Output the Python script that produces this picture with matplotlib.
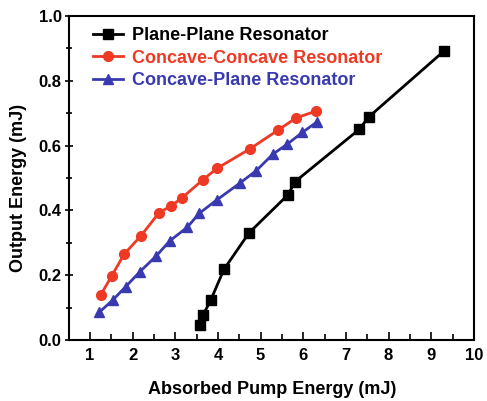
import matplotlib
matplotlib.use("Agg")
import matplotlib.pyplot as plt
from matplotlib.ticker import MultipleLocator

plt.rcParams['font.family'] = ['Liberation Sans', 'DejaVu Sans']
plt.rcParams['font.weight'] = 'bold'

pp_x = [3.58, 3.65, 3.83, 4.14, 4.73, 5.64, 5.81, 7.31, 7.54, 9.30]
pp_y = [0.046, 0.077, 0.123, 0.218, 0.331, 0.448, 0.489, 0.650, 0.689, 0.892]

cc_x = [1.25, 1.51, 1.80, 2.19, 2.62, 2.90, 3.16, 3.64, 3.98, 4.75, 5.41, 5.84, 6.31]
cc_y = [0.139, 0.198, 0.265, 0.321, 0.393, 0.414, 0.439, 0.494, 0.530, 0.590, 0.648, 0.686, 0.707]

cp_x = [1.22, 1.53, 1.84, 2.17, 2.55, 2.87, 3.28, 3.56, 3.97, 4.51, 4.90, 5.29, 5.63, 5.98, 6.32]
cp_y = [0.086, 0.123, 0.165, 0.211, 0.259, 0.306, 0.348, 0.391, 0.432, 0.484, 0.523, 0.574, 0.605, 0.641, 0.673]

labels = ["Plane-Plane Resonator", "Concave-Concave Resonator", "Concave-Plane Resonator"]
colors = ["#000000", "#ee3a24", "#3a3ab0"]

fig = plt.figure(figsize=(4.87, 4.01), dpi=100)
ax = fig.add_axes([0.141, 0.152, 0.832, 0.808])

ax.plot(pp_x, pp_y, '-s', color=colors[0], lw=2, ms=6.5, label=labels[0])
ax.plot(cc_x, cc_y, '-o', color=colors[1], lw=2, ms=7, label=labels[1])
ax.plot(cp_x, cp_y, '-^', color=colors[2], lw=2, ms=7.5, label=labels[2])

ax.set_xlim(0.5, 10)
ax.set_ylim(0, 1.0)
ax.xaxis.set_major_locator(MultipleLocator(1))
ax.xaxis.set_minor_locator(MultipleLocator(0.5))
ax.yaxis.set_major_locator(MultipleLocator(0.2))
ax.yaxis.set_minor_locator(MultipleLocator(0.1))
ax.set_xticks(range(1, 11))
ax.tick_params(axis='x', which='both', direction='in', top=False, pad=6)
ax.tick_params(axis='y', which='both', direction='inout', right=False, pad=2)
ax.tick_params(which='major', length=6, width=1.2, labelsize=12)
ax.tick_params(which='minor', length=4, width=1.2)
for s in ax.spines.values():
    s.set_linewidth(1.5)

ax.set_xlabel("Absorbed Pump Energy (mJ)", fontsize=13, fontweight='bold', va='top')
ax.set_ylabel("Output Energy (mJ)", fontsize=13, fontweight='bold')
ax.xaxis.set_label_coords(0.502, -0.125)
ax.yaxis.set_label_coords(-0.104, 0.47)

leg = ax.legend(loc='upper left', frameon=False, fontsize=13, handlelength=1.7,
                handletextpad=0.5, labelspacing=0.3, borderaxespad=0.0, borderpad=0.0,
                bbox_to_anchor=(0.059, 0.965))
for t, c in zip(leg.get_texts(), colors):
    t.set_color(c)
    t.set_fontweight('bold')

fig.savefig("out.png", dpi=100)
